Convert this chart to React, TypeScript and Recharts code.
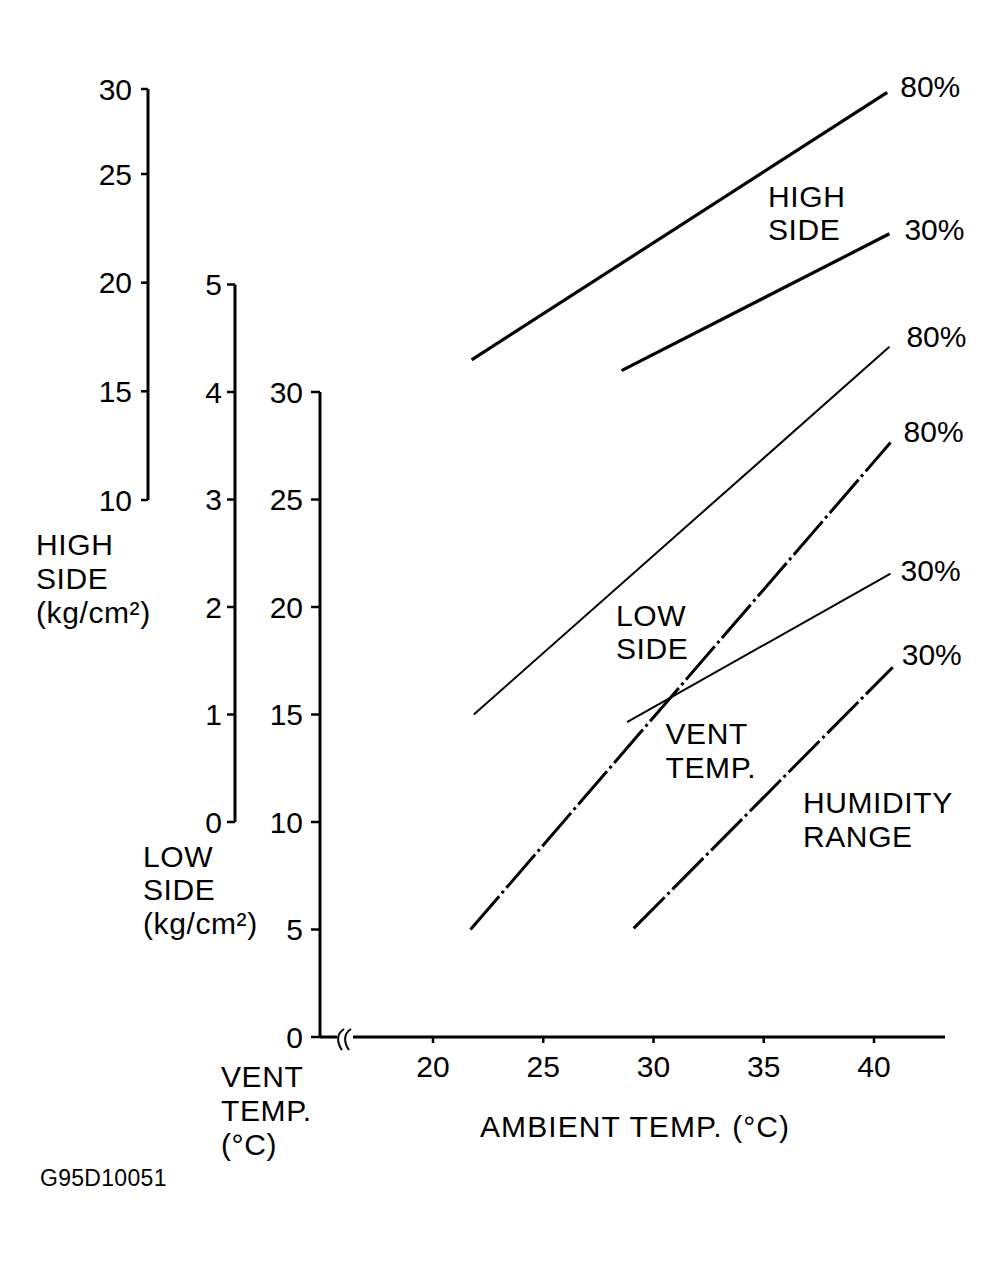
import React from 'react';
import { LineChart, Line, XAxis, YAxis, LabelList } from 'recharts';

// ---------- data ----------
const ambientTicks = [20, 25, 30, 35, 40];
const ventTicks = [0, 5, 10, 15, 20, 25, 30];
const lowTicks = [0, 1, 2, 3, 4, 5];
const highTicks = [10, 15, 20, 25, 30];

// high side pressure (kg/cm2)
const highAmbient80 = [21.75, 40.6];
const high80 = [16.45, 29.8];
const highAmbient30 = [28.55, 40.7];
const high30 = [15.95, 22.25];
// low side pressure (kg/cm2)
const lowAmbient80 = [21.85, 40.7];
const low80 = [1.0, 4.42];
const lowAmbient30 = [28.8, 40.75];
const low30 = [0.93, 2.31];
// vent temperature (°C)
const ventAmbient80 = [21.7, 40.75];
const vent80 = [5.0, 27.65];
const ventAmbient30 = [29.1, 40.85];
const vent30 = [5.05, 17.2];

const humidityLabels = ['80%', '30%'];

// ---------- helpers ----------
const W = 1006;
const H = 1261;
const FONT = '"Liberation Sans", Arial, Helvetica, sans-serif';
const PX_PER_C = 22.05;
const X20 = 433;
const PLOT_RIGHT = 945;

const ambientDomain = (leftPx: number): [number, number] => [
  20 - (X20 - leftPx) / PX_PER_C,
  20 + (PLOT_RIGHT - X20) / PX_PER_C,
];

const toPoints = (xs: number[], ys: number[], label: string) =>
  xs.map((x, i) => ({ x, y: ys[i], tag: i === xs.length - 1 ? label : null }));

// piecewise-linear scale reproducing the printed high-side axis (top interval is compressed)
function makePiecewiseScale(knots: number[], fracs: number[], dom?: number[], rng?: number[]): any {
  let d = dom ? dom.slice() : [knots[0], knots[knots.length - 1]];
  let r = rng ? rng.slice() : [0, 1];
  const frac = (v: number) => {
    let i = 0;
    while (i < knots.length - 2 && v > knots[i + 1]) i++;
    const t = (v - knots[i]) / (knots[i + 1] - knots[i]);
    return fracs[i] + t * (fracs[i + 1] - fracs[i]);
  };
  const s: any = (v: number) => r[0] + frac(v) * (r[1] - r[0]);
  s.domain = (nd?: number[]) => {
    if (nd === undefined) return d.slice();
    d = nd.slice();
    return s;
  };
  s.range = (nr?: number[]) => {
    if (nr === undefined) return r.slice();
    r = nr.slice();
    return s;
  };
  s.copy = () => makePiecewiseScale(knots, fracs, d, r);
  s.ticks = () => knots.slice();
  s.invert = (px: number) => {
    const f = (px - r[0]) / (r[1] - r[0]);
    let i = 0;
    while (i < fracs.length - 2 && f > fracs[i + 1]) i++;
    const t = (f - fracs[i]) / (fracs[i + 1] - fracs[i]);
    return knots[i] + t * (knots[i + 1] - knots[i]);
  };
  s.clamp = () => s;
  s.nice = () => s;
  return s;
}

const highScale = makePiecewiseScale([10, 25, 30], [0, 0.7932, 1]);

const endLabel = (dx: number, dy: number) => (props: any) => {
  const { value } = props;
  if (value == null || value === '') return null;
  const x = props.x ?? props.viewBox?.x;
  const y = props.y ?? props.viewBox?.y;
  return (
    <text x={x + dx} y={y + dy} fontSize={30} fontFamily={FONT} fill="#000">
      {value}
    </text>
  );
};

const tickStyle = { fill: '#000', fontSize: 30, fontFamily: FONT };
const axisLineStyle = { stroke: '#000', strokeWidth: 3 };
const tickLineStyle = { stroke: '#000', strokeWidth: 2.5 };

const layer: React.CSSProperties = { position: 'absolute', left: 0, top: 0 };

function TextBlock({ x, y, lines, size = 30, lh = 33.8, ls = 0.6 }: any) {
  return (
    <text x={x} y={y} fontSize={size} fontFamily={FONT} fill="#000" letterSpacing={ls}>
      {lines.map((l: string, i: number) => (
        <tspan key={i} x={x} y={y + i * lh}>
          {l}
        </tspan>
      ))}
    </text>
  );
}

export default function App() {
  const ventDom = ambientDomain(320);
  const lowDom = ambientDomain(235);
  const highDom = ambientDomain(148);

  return (
    <div style={{ position: 'absolute', left: 0, top: 0, width: W, height: H, background: '#fff' }}>
      {/* High side chart */}
      <div style={layer}>
        <LineChart width={W} height={H} margin={{ top: 89, right: W - PLOT_RIGHT, bottom: H - 500, left: 0 }}>
          <XAxis type="number" dataKey="x" domain={highDom} hide allowDataOverflow />
          <YAxis
            type="number"
            dataKey="y"
            domain={[10, 30]}
            ticks={highTicks}
            scale={highScale}
            interval={0}
            width={148}
            tickSize={7}
            tickMargin={9}
            tick={tickStyle}
            axisLine={axisLineStyle}
            tickLine={tickLineStyle}
          />
          <Line
            data={toPoints(highAmbient80, high80, humidityLabels[0])}
            dataKey="y"
            stroke="#000"
            strokeWidth={3.2}
            dot={false}
            isAnimationActive={false}
          >
            <LabelList dataKey="tag" content={endLabel(13, 5)} />
          </Line>
          <Line
            data={toPoints(highAmbient30, high30, humidityLabels[1])}
            dataKey="y"
            stroke="#000"
            strokeWidth={3.2}
            dot={false}
            isAnimationActive={false}
          >
            <LabelList dataKey="tag" content={endLabel(15, 6)} />
          </Line>
        </LineChart>
      </div>

      {/* Low side chart */}
      <div style={layer}>
        <LineChart width={W} height={H} margin={{ top: 284.5, right: W - PLOT_RIGHT, bottom: H - 822, left: 0 }}>
          <XAxis type="number" dataKey="x" domain={lowDom} hide allowDataOverflow />
          <YAxis
            type="number"
            dataKey="y"
            domain={[0, 5]}
            ticks={lowTicks}
            interval={0}
            width={235}
            tickSize={8}
            tickMargin={5}
            tick={tickStyle}
            axisLine={axisLineStyle}
            tickLine={tickLineStyle}
          />
          <Line
            data={toPoints(lowAmbient80, low80, humidityLabels[0])}
            dataKey="y"
            stroke="#000"
            strokeWidth={2}
            dot={false}
            isAnimationActive={false}
          >
            <LabelList dataKey="tag" content={endLabel(17, 0)} />
          </Line>
          <Line
            data={toPoints(lowAmbient30, low30, humidityLabels[1])}
            dataKey="y"
            stroke="#000"
            strokeWidth={2}
            dot={false}
            isAnimationActive={false}
          >
            <LabelList dataKey="tag" content={endLabel(10, 7)} />
          </Line>
        </LineChart>
      </div>

      {/* Vent temperature chart with ambient axis */}
      <div style={layer}>
        <LineChart width={W} height={H} margin={{ top: 392, right: W - PLOT_RIGHT, bottom: H - 1037 - 60, left: 0 }}>
          <XAxis
            type="number"
            dataKey="x"
            domain={ventDom}
            ticks={ambientTicks}
            interval={0}
            height={60}
            tickSize={6}
            tickMargin={13}
            tick={tickStyle}
            axisLine={axisLineStyle}
            tickLine={tickLineStyle}
            allowDataOverflow
          />
          <YAxis
            type="number"
            dataKey="y"
            domain={[0, 30]}
            ticks={ventTicks}
            interval={0}
            width={320}
            tickSize={9}
            tickMargin={8}
            tick={tickStyle}
            axisLine={axisLineStyle}
            tickLine={tickLineStyle}
          />
          <Line
            data={toPoints(ventAmbient80, vent80, humidityLabels[0])}
            dataKey="y"
            stroke="#000"
            strokeWidth={3}
            strokeDasharray="44 4 3 4"
            dot={false}
            isAnimationActive={false}
          >
            <LabelList dataKey="tag" content={endLabel(13, -1)} />
          </Line>
          <Line
            data={toPoints(ventAmbient30, vent30, humidityLabels[1])}
            dataKey="y"
            stroke="#000"
            strokeWidth={3}
            strokeDasharray="44 4 3 4"
            dot={false}
            isAnimationActive={false}
          >
            <LabelList dataKey="tag" content={endLabel(9, -2)} />
          </Line>
        </LineChart>
      </div>

      {/* annotations */}
      <svg style={layer} width={W} height={H}>
        <rect x={337} y={1032} width={16} height={10} fill="#fff" />
        <path d="M344 1029 C336 1034 337 1043 342 1050" stroke="#000" strokeWidth={2} fill="none" />
        <path d="M351 1029 C343 1034 344 1043 349 1050" stroke="#000" strokeWidth={2} fill="none" />

        <TextBlock x={36} y={555} lines={['HIGH', 'SIDE', '(kg/cm²)']} />
        <TextBlock x={143} y={866.5} lines={['LOW', 'SIDE', '(kg/cm²)']} />
        <TextBlock x={221} y={1087} lines={['VENT', 'TEMP.', '(°C)']} />
        <TextBlock x={480} y={1137} lines={['AMBIENT TEMP. (°C)']} ls={1.1} />
        <TextBlock x={768} y={206.5} lines={['HIGH', 'SIDE']} />
        <TextBlock x={616} y={625.5} lines={['LOW', 'SIDE']} />
        <TextBlock x={665.5} y={744} lines={['VENT', 'TEMP.']} />
        <TextBlock x={803} y={813} lines={['HUMIDITY', 'RANGE']} />
        <TextBlock x={40} y={1186} lines={['G95D10051']} size={23} ls={0.3} />
      </svg>
    </div>
  );
}
